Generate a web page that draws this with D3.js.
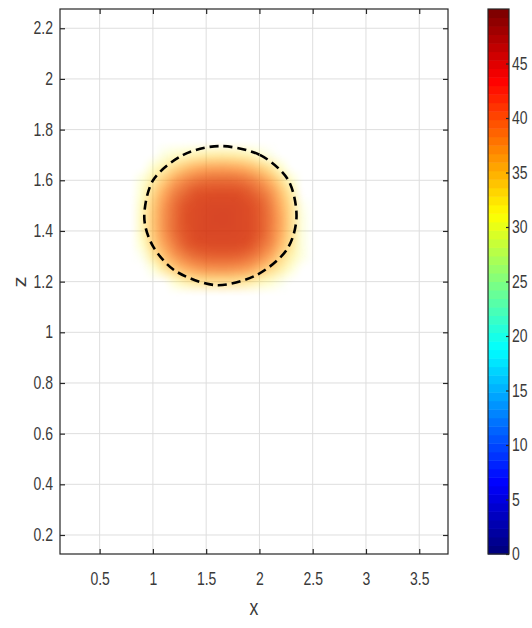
<!DOCTYPE html>
<html>
<head>
<meta charset="utf-8">
<script src="https://cdn.jsdelivr.net/npm/d3@7"></script>
<style>
  html, body { margin: 0; padding: 0; background: #fff; }
  svg { display: block; }
  text { font-family: "Liberation Sans", Arial, Helvetica, sans-serif; }
</style>
</head>
<body>
<svg id="chart" width="532" height="628"></svg>
<script>
// ---------- data ----------
const xTicks = [0.5, 1, 1.5, 2, 2.5, 3, 3.5];
const zTicks = [0.2, 0.4, 0.6, 0.8, 1, 1.2, 1.4, 1.6, 1.8, 2, 2.2];
const cbTicks = [0, 5, 10, 15, 20, 25, 30, 35, 40, 45];
const xDomain = [0.128, 3.77];
const zDomain = [0.125, 2.276];
const cbDomain = [0, 50];

// field sample positions (x columns, z rows top->bottom)
const gridX = [0.8, 0.9, 1.0, 1.1, 1.2, 1.3, 1.4, 1.5, 1.6, 1.7, 1.8, 1.9, 2.0, 2.1, 2.2, 2.3, 2.4, 2.5];
const gridZ = [1.80, 1.75, 1.70, 1.65, 1.60, 1.55, 1.50, 1.45, 1.40, 1.35, 1.30, 1.25, 1.20, 1.15, 1.10];
// values (0 = no data)
const fieldValues = [
  [0, 0, 0, 0, 0, 0, 0, 0, 0, 0, 0, 0, 0, 0, 0, 0, 0, 0],
  [0, 0, 0, 0, 0, 0, 0, 0, 0, 0, 0, 0, 0, 0, 0, 0, 0, 0],
  [0, 0, 0, 30.5, 31.5, 32.2, 33.0, 33.5, 33.7, 33.7, 33.4, 32.7, 31.3, 30, 0, 0, 0, 0],
  [0, 0, 31.5, 33.3, 35.1, 36.5, 37.4, 37.8, 37.9, 37.9, 37.7, 37.1, 36.0, 34.3, 31.4, 0, 0, 0],
  [0, 31, 33.6, 36.0, 37.9, 38.9, 39.5, 39.8, 39.9, 39.9, 39.8, 39.4, 38.6, 37.3, 34.9, 31.4, 0, 0],
  [0, 31.6, 35.2, 37.7, 39.2, 40.1, 40.7, 40.9, 41.0, 41.0, 40.9, 40.5, 39.8, 38.7, 36.7, 33.6, 0, 0],
  [0, 32.5, 36.1, 38.4, 39.8, 40.7, 41.1, 41.3, 41.4, 41.4, 41.3, 41.0, 40.4, 39.3, 37.5, 34.6, 30, 0],
  [0, 32.8, 36.4, 38.6, 39.9, 40.8, 41.2, 41.4, 41.5, 41.5, 41.3, 41.1, 40.5, 39.5, 37.8, 34.9, 30.5, 0],
  [0, 32.6, 36.3, 38.5, 39.9, 40.7, 41.2, 41.4, 41.4, 41.4, 41.3, 41.1, 40.5, 39.4, 37.7, 34.8, 30.5, 0],
  [0, 31.8, 35.6, 38.0, 39.4, 40.4, 40.9, 41.1, 41.2, 41.2, 41.1, 40.8, 40.1, 39.0, 37.1, 34.3, 30.5, 0],
  [0, 30, 33.9, 36.6, 38.3, 39.3, 39.9, 40.2, 40.3, 40.3, 40.2, 39.8, 39.0, 37.8, 35.5, 33.0, 30.5, 0],
  [0, 0, 30.8, 33.9, 36.0, 37.4, 38.1, 38.5, 38.6, 38.6, 38.4, 38.0, 36.9, 35.3, 33.5, 31, 0, 0],
  [0, 0, 0, 0, 31.4, 33.2, 34.2, 34.7, 34.9, 34.9, 34.6, 33.9, 32.6, 31.5, 30, 0, 0, 0],
  [0, 0, 0, 0, 0, 0, 0, 0, 0, 0, 0, 0, 0, 0, 0, 0, 0, 0],
  [0, 0, 0, 0, 0, 0, 0, 0, 0, 0, 0, 0, 0, 0, 0, 0, 0, 0]
];

// dashed boundary
const boundaryX = [1.629, 2.004, 2.270, 2.348, 2.255, 1.973, 1.598, 1.223, 1.003, 0.919, 1.003, 1.285];
const boundaryZ = [1.735, 1.700, 1.601, 1.456, 1.325, 1.226, 1.186, 1.239, 1.338, 1.456, 1.601, 1.700];

// ---------- layout ----------
const plot = { left: 60, top: 9, right: 448, bottom: 554 };
const cb = { left: 488, right: 509, top: 9, bottom: 554 };
const axisColor = "#262626";
const textColor = "#3a3a3a";
const gridColor = "#dedede";
const fontSize = 17.5;
const sx = 0.8; // horizontal squeeze of the text

const svg = d3.select("#chart");
const x = d3.scaleLinear().domain(xDomain).range([plot.left, plot.right]);
const z = d3.scaleLinear().domain(zDomain).range([plot.bottom, plot.top]);
const c = d3.scaleLinear().domain(cbDomain).range([cb.bottom, cb.top]);

function jet(t) {
  const cl = v => Math.max(0, Math.min(1, v));
  return [cl(1.5 - Math.abs(4 * t - 3)), cl(1.5 - Math.abs(4 * t - 2)), cl(1.5 - Math.abs(4 * t - 1))];
}

svg.append("rect").attr("width", 532).attr("height", 628).attr("fill", "#fff");

// grid
const gridG = svg.append("g");
gridG.selectAll("line.gx").data(xTicks).join("line")
  .attr("x1", d => x(d)).attr("x2", d => x(d))
  .attr("y1", plot.top).attr("y2", plot.bottom)
  .attr("stroke", gridColor).attr("stroke-width", 1);
gridG.selectAll("line.gz").data(zTicks).join("line")
  .attr("x1", plot.left).attr("x2", plot.right)
  .attr("y1", d => z(d)).attr("y2", d => z(d))
  .attr("stroke", gridColor).attr("stroke-width", 1);

// ---------- field image ----------
const nx = gridX.length, nz = gridZ.length;
const dx = gridX[1] - gridX[0], dz = gridZ[0] - gridZ[1];
const src = document.createElement("canvas");
src.width = nx; src.height = nz;
const sctx = src.getContext("2d");
const img = sctx.createImageData(nx, nz);
const cmax = cbDomain[1];
fieldValues.forEach((row, j) => row.forEach((v, i) => {
  const k = (j * nx + i) * 4;
  if (v <= 0) { img.data[k + 3] = 0; return; }
  const col = jet(v / cmax);
  const shade = 1 - Math.max(0, v - 37.5) * 0.045;
  const a = Math.max(0, Math.min(0.85, 0.3 + (v - 33) * 0.07));
  img.data[k] = Math.round(col[0] * 255 * shade);
  img.data[k + 1] = Math.round(col[1] * 255 * shade);
  img.data[k + 2] = Math.round(col[2] * 255 * shade);
  img.data[k + 3] = Math.round(a * 255);
}));
sctx.putImageData(img, 0, 0);

const ix0 = x(gridX[0] - dx / 2), ix1 = x(gridX[nx - 1] + dx / 2);
const iy0 = z(gridZ[0] + dz / 2), iy1 = z(gridZ[nz - 1] - dz / 2);
const W = Math.round(ix1 - ix0), H = Math.round(iy1 - iy0);
const mid = document.createElement("canvas");
mid.width = nx * 4; mid.height = nz * 4;
const mctx = mid.getContext("2d");
mctx.imageSmoothingEnabled = true; mctx.imageSmoothingQuality = "high";
mctx.drawImage(src, 0, 0, mid.width, mid.height);
const big = document.createElement("canvas");
big.width = W; big.height = H;
const bctx = big.getContext("2d");
bctx.imageSmoothingEnabled = true; bctx.imageSmoothingQuality = "high";
bctx.filter = "blur(1.5px)";
bctx.drawImage(mid, 0, 0, W, H);
svg.append("image")
  .attr("x", ix0).attr("y", iy0).attr("width", W).attr("height", H)
  .attr("preserveAspectRatio", "none")
  .attr("href", big.toDataURL());

// dashed boundary
const boundary = boundaryX.map((bx, i) => [bx, boundaryZ[i]]);
svg.append("path")
  .datum(boundary)
  .attr("d", d3.line().x(d => x(d[0])).y(d => z(d[1])).curve(d3.curveCardinalClosed.tension(0.1)))
  .attr("fill", "none").attr("stroke", "#000").attr("stroke-width", 2.6)
  .attr("stroke-dasharray", "9,5");

// ---------- axes ----------
const tickLen = 5;
const ax = svg.append("g");
ax.append("rect").attr("x", plot.left).attr("y", plot.top)
  .attr("width", plot.right - plot.left).attr("height", plot.bottom - plot.top)
  .attr("fill", "none").attr("stroke", axisColor).attr("stroke-width", 1.2);

const xAxisB = d3.axisBottom(x).tickValues(xTicks).tickSizeInner(-tickLen).tickSizeOuter(0).tickPadding(19).tickFormat(d3.format("~g"));
const xAxisT = d3.axisTop(x).tickValues(xTicks).tickSizeInner(-tickLen).tickSizeOuter(0).tickFormat("");
const zAxisL = d3.axisLeft(z).tickValues(zTicks).tickSizeInner(-tickLen).tickSizeOuter(0).tickPadding(7).tickFormat(d3.format("~g"));
const zAxisR = d3.axisRight(z).tickValues(zTicks).tickSizeInner(-tickLen).tickSizeOuter(0).tickFormat("");

function style(g) {
  g.select(".domain").remove();
  g.selectAll(".tick line").attr("stroke", axisColor).attr("stroke-width", 1.2);
  g.selectAll(".tick text").attr("fill", textColor).style("font-size", fontSize + "px")
    .each(function () {
      const t = d3.select(this);
      const tx = +t.attr("x") || 0;
      t.attr("x", tx / sx).attr("transform", `scale(${sx},1)`);
    });
}
ax.append("g").attr("transform", `translate(0,${plot.bottom})`).call(xAxisB).call(style);
ax.append("g").attr("transform", `translate(0,${plot.top})`).call(xAxisT).call(style);
ax.append("g").attr("transform", `translate(${plot.left},0)`).call(zAxisL).call(style);
ax.append("g").attr("transform", `translate(${plot.right},0)`).call(zAxisR).call(style);

// axis labels
svg.append("text").attr("transform", `translate(254,615)scale(${sx},1)`)
  .attr("text-anchor", "middle").attr("fill", textColor).style("font-size", "22px").text("x");
svg.append("text").attr("transform", `translate(26,282)scale(${sx},1)rotate(-90)`)
  .attr("text-anchor", "middle").attr("fill", textColor).style("font-size", "22px").text("z");

// ---------- colorbar ----------
const nColors = 64;
const bands = d3.range(nColors);
const bandH = (cbDomain[1] - cbDomain[0]) / nColors;
svg.append("g").selectAll("rect").data(bands).join("rect")
  .attr("x", cb.left).attr("width", cb.right - cb.left)
  .attr("y", d => c(cbDomain[0] + (d + 1) * bandH))
  .attr("height", d => c(cbDomain[0] + d * bandH) - c(cbDomain[0] + (d + 1) * bandH) + 0.5)
  .attr("fill", d => { const col = jet(d / (nColors - 1)); return d3.rgb(col[0] * 255, col[1] * 255, col[2] * 255); });
svg.append("rect").attr("x", cb.left).attr("y", cb.top)
  .attr("width", cb.right - cb.left).attr("height", cb.bottom - cb.top)
  .attr("fill", "none").attr("stroke", axisColor).attr("stroke-width", 1.2);
const cAxis = d3.axisRight(c).tickValues(cbTicks).tickSizeInner(-3).tickSizeOuter(0).tickPadding(3).tickFormat(d3.format("~g"));
svg.append("g").attr("transform", `translate(${cb.right},0)`).call(cAxis).call(style);
</script>
</body>
</html>
